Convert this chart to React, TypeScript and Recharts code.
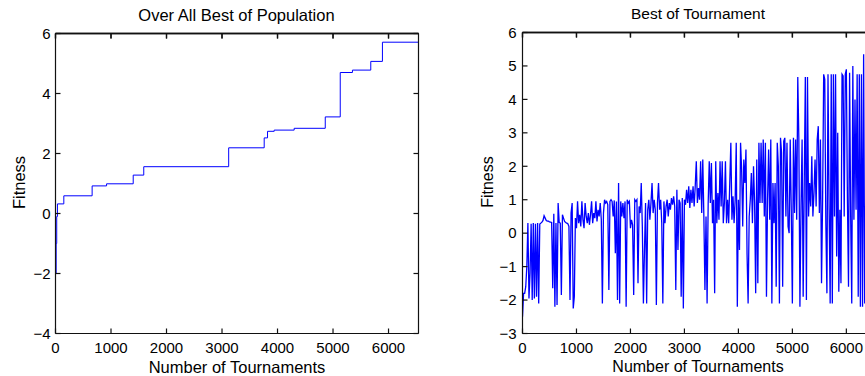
import React from "react";
import { LineChart, Line, XAxis, YAxis, ReferenceLine } from "recharts";

// ---------- data ----------
const xTicks = [0, 1000, 2000, 3000, 4000, 5000, 6000];
const leftYTicks = [-4, -2, 0, 2, 4, 6];
const rightYTicks = [-3, -2, -1, 0, 1, 2, 3, 4, 5, 6];
const xMax = 6540;

// Over-all best of population: step changes (tournament, fitness)
const bestTournament = [0, 12, 22, 35, 150, 660, 920, 1400, 1590, 3120, 3760, 3820, 3940, 4300, 4860, 5130, 5350, 5680, 5890, 6540];
const bestFitness = [-2.0, -1.0, -0.1, 0.32, 0.59, 0.92, 0.99, 1.28, 1.56, 2.19, 2.52, 2.74, 2.78, 2.84, 3.22, 4.7, 4.78, 5.07, 5.71, 5.71];

// Best of tournament: one sample every 20 tournaments
const sampleStep = 20;
const tournamentFitness = [
  -2.5, -1.8, -1.8, -1.6, -1.0, 0.3, -1.95, -1.2, 0.28, -2.0,
  0.3, -1.95, 0.28, -1.9, 0.3, -2.1, 0.27, 0.3, 0.33, 0.38,
  0.52, 0.45, 0.38, 0.36, 0.36, 0.34, 0.33, 0.32, -1.65, 0.58,
  -2.2, 0.3, -2.15, 0.9, 0.32, 0.3, -1.85, 0.55, 0.45, 0.35,
  0.32, 0.3, 0.28, 0.2, -2.0, 0.6, 0.9, -2.25, -1.9, 0.45,
  0.15, 0.95, 0.3, 0.55, 0.2, 0.95, 0.4, 0.15, 0.9, 0.5,
  0.3, 0.6, 0.25, 0.55, 0.95, 0.3, 0.6, 0.45, 0.95, 0.35,
  0.7, 0.5, 0.9, 0.4, -2.1, 0.6, 1.0, 0.9, 0.95, 0.85,
  -1.7, 0.95, 1.0, 0.95, 0.5, 0.98, -0.6, 0.95, -2.0, 1.5,
  -2.1, 0.95, 0.5, 0.9, 0.45, 0.95, -2.2, 1.0, 0.9, 0.95,
  0.15, 0.4, 0.25, -1.85, 1.0, 0.95, 1.0, -1.5, 0.8, 0.6,
  1.5, 0.2, -2.1, -0.5, 0.9, -2.1, 0.7, 1.0, 0.4, 0.9,
  1.5, 0.6, 1.0, 0.7, -2.15, 0.9, 1.5, 0.7, 1.0, 0.3,
  -2.1, 0.95, 0.3, 0.8, 1.0, 0.5, 0.9, 0.7, 1.05, 0.85,
  1.1, 0.8, -1.7, 1.3, -0.5, 1.0, 0.9, -1.9, 1.05, -2.25,
  1.0, 0.85, 1.3, 0.9, 1.4, 0.75, 1.3, 0.9, 1.4, 0.8,
  1.4, 2.15, 0.9, 1.35, 1.0, 2.15, 0.6, 2.2, 0.5, -1.7,
  0.5, -2.1, 0.9, 2.15, 0.9, 2.1, 0.3, 1.0, -1.8, 2.15,
  0.3, 1.2, 0.4, 2.15, 0.8, 2.15, 0.3, 0.9, 2.15, 0.3,
  1.0, 0.3, 1.5, 2.7, 0.4, 1.1, 0.3, 1.0, 2.7, -2.2,
  1.0, -0.5, 2.7, 1.9, 0.2, 2.2, 1.5, 2.5, -0.6, -2.1,
  0.5, 1.0, 1.8, 0.3, 2.0, 0.9, -1.8, 2.2, -1.5, 2.7,
  0.9, 2.7, 0.9, 2.8, 0.5, 2.7, -1.9, 1.0, 2.5, 0.4,
  2.8, -2.1, 1.5, 0.3, 1.5, -1.6, 2.7, 2.0, -2.1, 2.85,
  2.4, -1.6, 2.75, 2.85, 0.5, 2.7, 0.2, 0.0, 2.8, 0.6,
  -2.1, 2.85, 0.6, 2.8, 0.4, 4.67, 2.8, -2.2, 0.8, 2.8,
  -1.9, 1.5, 4.67, -2.0, 4.67, 0.5, 1.5, 0.8, 2.3, 0.5,
  1.2, 2.2, 0.8, 2.8, 3.2, 0.6, 2.8, -1.5, 1.0, 4.75,
  4.6, 0.3, -1.8, 4.75, 0.8, -2.1, 4.75, -2.1, 4.75, 0.5,
  4.75, -0.7, 3.0, -1.75, 0.7, -1.5, 4.75, 4.7, 0.5, 4.75,
  4.9, 1.0, -1.6, 4.8, 0.5, -2.1, 5.0, 0.4, 4.0, 0.7,
  4.75, -1.9, 4.75, -2.2, 4.75, -2.2, 5.35, -2.1, 1.4, 4.7,
  0.6, -2.0, 4.7, 1.0, 2.5,
];

// ---------- derived tables ----------
const leftData = bestTournament.map((t, i) => ({ t, f: bestFitness[i] }));
const rightData = tournamentFitness.map((f, i) => ({ t: i * sampleStep, f }));

const FONT = "'Liberation Sans', Arial, Helvetica, sans-serif";
const tickStyle = { fill: "#000", fontSize: 15, fontFamily: FONT };
const fmt = (v: number) => String(v).replace("-", "\u2212");
const noLabel = () => <g />;
const FRAME = "#111";
const FRAME_W = 1.2;

// frame geometry (page pixels) used only for the top border decoration
const leftFrame = { x0: 55.5, x1: 418.5, y: 33.5 };
const rightFrame = { x0: 522.5, x1: 875.5, y: 32.5 };

type PanelProps = {
  data: { t: number; f: number }[];
  width: number;
  marginTop: number;
  marginRight: number;
  yWidth: number;
  yDomain: [number, number];
  yTicks: number[];
  yTickMargin: number;
  lineType: "stepAfter" | "linear";
  strokeWidth: number;
};

function Panel(p: PanelProps) {
  return (
    <LineChart width={p.width} height={376} data={p.data} margin={{ top: p.marginTop, right: p.marginRight, left: 0, bottom: 0 }}>
      <XAxis
        xAxisId={0}
        dataKey="t"
        type="number"
        domain={[0, xMax]}
        ticks={xTicks}
        interval={0}
        allowDataOverflow
        height={42.5}
        tickSize={-5}
        tickMargin={14}
        tick={tickStyle}
        stroke={FRAME}
        strokeWidth={FRAME_W}
      />
      <XAxis
        xAxisId={1}
        dataKey="t"
        orientation="top"
        type="number"
        domain={[0, xMax]}
        ticks={xTicks}
        interval={0}
        allowDataOverflow
        height={1}
        tickSize={-5}
        tick={noLabel}
        stroke={FRAME}
        strokeWidth={1.5}
      />
      <YAxis
        yAxisId={0}
        type="number"
        domain={p.yDomain}
        ticks={p.yTicks}
        interval={0}
        allowDataOverflow
        width={p.yWidth}
        tickSize={-5}
        tickMargin={p.yTickMargin}
        tick={tickStyle}
        tickFormatter={fmt}
        stroke={FRAME}
        strokeWidth={FRAME_W}
      />
      <YAxis
        yAxisId={1}
        orientation="right"
        type="number"
        domain={p.yDomain}
        ticks={p.yTicks}
        interval={0}
        allowDataOverflow
        width={1}
        tickSize={-5}
        tick={noLabel}
        stroke={FRAME}
        strokeWidth={FRAME_W}
      />
      <ReferenceLine xAxisId={0} yAxisId={0} y={p.yDomain[1]} stroke={FRAME} strokeWidth={1.5} ifOverflow="visible" />
      <Line
        xAxisId={0}
        yAxisId={0}
        type={p.lineType}
        dataKey="f"
        stroke="#0000ff"
        strokeWidth={p.strokeWidth}
        dot={false}
        isAnimationActive={false}
      />
      <Line
        xAxisId={1}
        yAxisId={1}
        type={p.lineType}
        dataKey="f"
        stroke="none"
        dot={false}
        legendType="none"
        isAnimationActive={false}
      />
    </LineChart>
  );
}

function TopBorder({ x0, x1, y }: { x0: number; x1: number; y: number }) {
  const span = x1 - x0;
  return (
    <g stroke={FRAME} strokeWidth={1}>
      <line x1={x0} y1={y} x2={x1} y2={y} />
      {xTicks.map((t) => {
        const x = x0 + (t / xMax) * span;
        return <line key={t} x1={x} y1={y} x2={x} y2={y + 5} />;
      })}
    </g>
  );
}

export default function App() {
  return (
    <div
      style={{
        position: "absolute",
        left: 0,
        top: 0,
        width: 865,
        height: 376,
        overflow: "hidden",
        background: "#fff",
      }}
    >
      <div style={{ position: "absolute", left: 0, top: 0 }}>
        <Panel
          data={leftData}
          width={430}
          marginTop={32.5}
          marginRight={10.5}
          yWidth={55.5}
          yDomain={[-4, 6]}
          yTicks={leftYTicks}
          yTickMargin={10}
          lineType="stepAfter"
          strokeWidth={1}
        />
      </div>
      <div style={{ position: "absolute", left: 430, top: 0 }}>
        <Panel
          data={rightData}
          width={460}
          marginTop={31.5}
          marginRight={13.5}
          yWidth={92.5}
          yDomain={[-3, 6]}
          yTicks={rightYTicks}
          yTickMargin={11}
          lineType="linear"
          strokeWidth={1.3}
        />
      </div>

      {/* Titles, axis labels and top frame edge */}
      <svg
        width={865}
        height={376}
        style={{ position: "absolute", left: 0, top: 0, pointerEvents: "none" }}
        fontFamily={FONT}
        fill="#000"
      >
        <TopBorder {...leftFrame} />
        <TopBorder {...rightFrame} />

        <text x={236.5} y={21} fontSize={16.5} textAnchor="middle">Over All Best of Population</text>
        <text x={237} y={373} fontSize={16.5} textAnchor="middle">Number of Tournaments</text>
        <text x={25} y={182.5} fontSize={16.5} textAnchor="middle" transform="rotate(-90 25 182.5)">Fitness</text>

        <text x={698} y={18.5} fontSize={15.5} textAnchor="middle">Best of Tournament</text>
        <text x={698} y={372} fontSize={16} textAnchor="middle">Number of Tournaments</text>
        <text x={493} y={182} fontSize={16} textAnchor="middle" transform="rotate(-90 493 182)">Fitness</text>
      </svg>
    </div>
  );
}
